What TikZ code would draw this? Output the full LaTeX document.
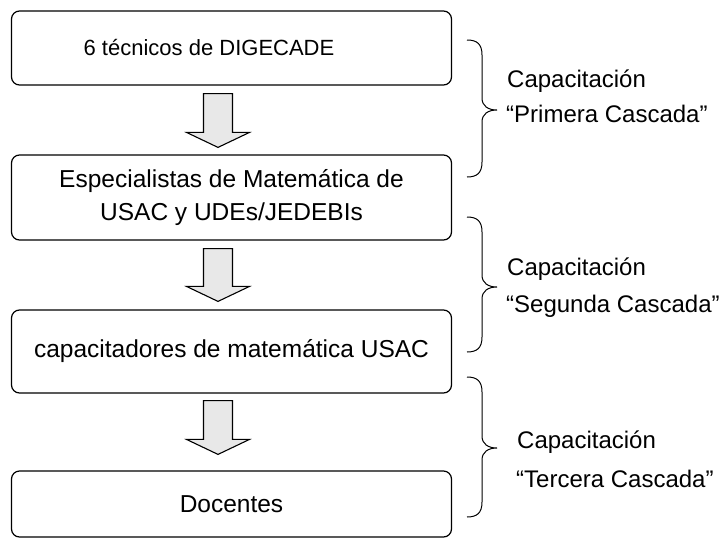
\documentclass[tikz,border=0pt]{standalone}
\usepackage{fontspec}
\setmainfont{Liberation Sans}
\usetikzlibrary{calc}
\tikzset{
  box/.style={draw, line width=1.2pt, rounded corners=8pt, minimum width=440pt,
    inner sep=0pt, font=\fontsize{24.5}{33}\selectfont, align=center},
  boxtext/.style={inner sep=0pt, font=\fontsize{22}{30}\selectfont},
  lbl/.style={anchor=base west, inner sep=0pt, font=\fontsize{24}{30}\selectfont},
  bracepath/.style={draw, line width=1pt},
  blockarrow/.style={draw, line width=1.1pt, fill=black!9, line join=miter},
}
\newcommand{\blockarr}[4]{% from, to, top gap, tip gap
  \draw[blockarrow] let \p1=($(#1.south)+(-13.5,#3)$), \p2=($(#2.north)+(-13.5,-#4)$) in
    (\x1-14.5pt,\y1) -- (\x1+14.5pt,\y1) -- (\x1+14.5pt,\y2+15pt) -- (\x1+31.5pt,\y2+15pt)
    -- (\x1,\y2) -- (\x1-31.5pt,\y2+15pt) -- (\x1-14.5pt,\y2+15pt) -- cycle;}
\newcommand{\curlybrace}[3]{% top, tip, bottom
  \draw[bracepath] (467,#1) .. controls (477,#1) and (482,#1+4) .. (482,#1+15)
    -- (482,#2-12) .. controls (482,#2-4) and (488,#2) .. (497,#2)
    .. controls (488,#2) and (482,#2+4) .. (482,#2+12)
    -- (482,#3-15) .. controls (482,#3-4) and (477,#3) .. (467,#3);}
\begin{document}
\begin{tikzpicture}[x=1pt,y=-1pt]
  \useasboundingbox (0,0) rectangle (725,541);
  \node[box, minimum height=74pt] (b1) at (231.5,48) {};
  \node[boxtext] (t1) at (209,48) {6 técnicos de DIGECADE};
  \node[box, minimum height=85pt] (b2) at (231.5,197.5) {Especialistas de Matemática de\\USAC y UDEs/JEDEBIs};
  \node[box, minimum height=83pt] (b3) at (231.5,351.5) {capacitadores de matemática USAC};
  \node[box, minimum height=66pt] (b4) at (231.5,504) {Docentes};

  \blockarr{b1}{b2}{8}{7}
  \blockarr{b2}{b3}{8}{8}
  \blockarr{b3}{b4}{7}{16}

  \curlybrace{40}{110}{177}
  \curlybrace{217}{287}{352}
  \curlybrace{377}{448}{517}

  \node[lbl] (l1a) at (507,87) {Capacitación};
  \node[lbl] (l1b) at (506,122) {“Primera Cascada”};
  \node[lbl] (l2a) at (507,275) {Capacitación};
  \node[lbl] (l2b) at (506,312) {“Segunda Cascada”};
  \node[lbl] (l3a) at (517,448) {Capacitación};
  \node[lbl] (l3b) at (516,487) {“Tercera Cascada”};
\end{tikzpicture}
\end{document}
